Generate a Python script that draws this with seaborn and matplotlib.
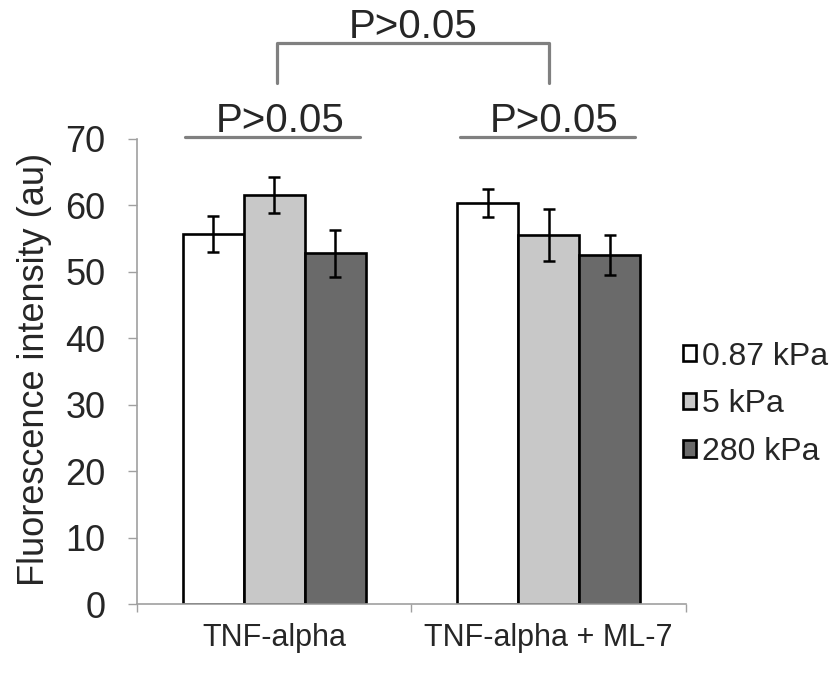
import pandas as pd
import numpy as np
import matplotlib.pyplot as plt
import seaborn as sns
from matplotlib.ticker import FixedLocator

# data
treatments = ['TNF-alpha', 'TNF-alpha + ML-7']
stiffness = ['0.87 kPa', '5 kPa', '280 kPa']
means_tnf = [55.7, 61.6, 52.8]
means_ml7 = [60.4, 55.5, 52.6]
err_tnf = [2.7, 2.7, 3.5]
err_ml7 = [2.1, 3.9, 3.0]
bar_colors = ['#ffffff', '#c8c8c8', '#6a6a6a']
p_text = 'P>0.05'

sns.set_style('white')
plt.rcParams['font.family'] = ['Liberation Sans', 'DejaVu Sans']

df = pd.DataFrame({
    'treatment': np.repeat(treatments, len(stiffness)),
    'stiffness': stiffness * len(treatments),
    'value': means_tnf + means_ml7,
    'err': err_tnf + err_ml7,
})

fig = plt.figure(figsize=(8.35, 6.73), dpi=100)
ax = fig.add_axes([0.164, 0.1018, 0.6575, 0.6917])

sns.barplot(data=df, x='treatment', y='value', hue='stiffness',
            order=treatments, hue_order=stiffness, palette=bar_colors,
            errorbar=None, width=0.668, gap=0, edgecolor='black',
            linewidth=1.9, ax=ax, zorder=2)

# error bars on top of each bar (patches are ordered hue-major)
bars = [p for p in ax.patches if p.get_height() > 0]
for i, s in enumerate(stiffness):
    for j, t in enumerate(treatments):
        b = bars[i * len(treatments) + j]
        row = df[(df.treatment == t) & (df.stiffness == s)].iloc[0]
        ax.errorbar(b.get_x() + b.get_width() / 2, row.value, yerr=row.err,
                    fmt='none', ecolor='black', elinewidth=1.8,
                    capsize=4, capthick=1.8, zorder=3)

ax.set_ylim(0, 70)
ax.set_xlim(-0.5, 1.5)
ax.set_yticks(range(0, 71, 10))
ax.tick_params(axis='y', labelsize=26, length=6.5, width=1, color='#a0a0a0',
               pad=16, direction='out', left=True)
ax.tick_params(axis='x', labelsize=22, length=0, pad=13)
ax.xaxis.set_minor_locator(FixedLocator([-0.5, 0.5, 1.5]))
ax.tick_params(axis='x', which='minor', length=6, width=1, color='#a0a0a0',
               direction='out', bottom=True)
for side in ['top', 'right']:
    ax.spines[side].set_visible(False)
for side in ['left', 'bottom']:
    ax.spines[side].set_color('#a0a0a0')
    ax.spines[side].set_linewidth(1.2)
ax.set_xlabel('')
ax.set_ylabel('Fluorescence intensity (au)', fontsize=26)
ax.yaxis.set_label_coords(-0.154, 0.505)

# significance annotations
gray = '#808080'
n = len(treatments)
for j in range(n):
    grp = [bars[i * n + j] for i in range(len(stiffness))]
    x0 = min(b.get_x() for b in grp) + 0.01
    x1 = max(b.get_x() + b.get_width() for b in grp) - 0.02
    ax.plot([x0, x1], [70.3, 70.3], color=gray, lw=2.3, clip_on=False)
    ax.text(j + 0.02, 71.0, p_text, ha='center', va='baseline',
            fontsize=29, clip_on=False)
ax.plot([0.01, 0.01, 1.0, 1.0], [78.4, 84.4, 84.4, 78.4], color=gray,
        lw=2.3, clip_on=False)
ax.text(0.505, 85.2, p_text, ha='center', va='baseline', fontsize=29,
        clip_on=False)

handles, labels = ax.get_legend_handles_labels()
ax.legend(handles, labels, loc='center left', bbox_to_anchor=(0.9945, 0.43),
          frameon=False, fontsize=23, handlelength=0.4, handleheight=0.4,
          handletextpad=0.2, labelspacing=0.55, borderaxespad=0, borderpad=0)

fig.savefig('out.png', dpi=100)
